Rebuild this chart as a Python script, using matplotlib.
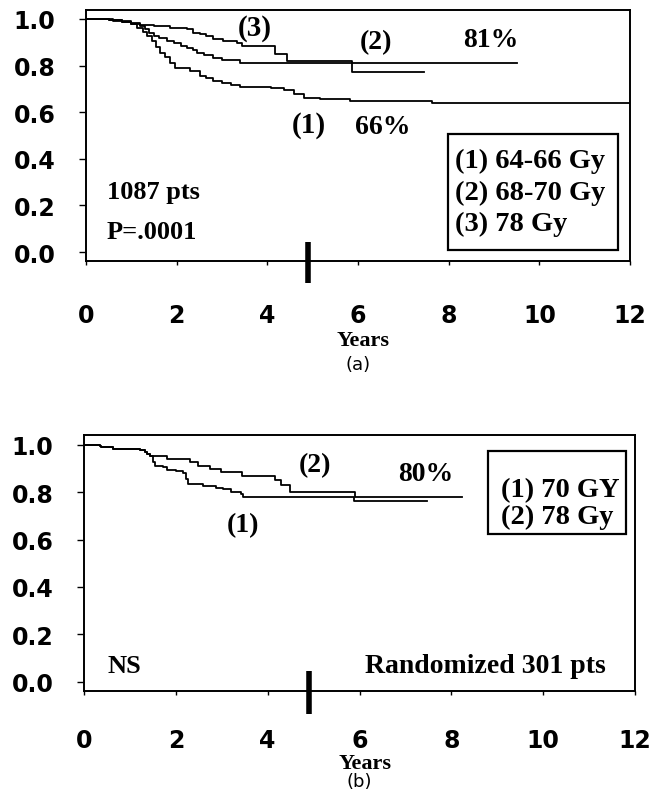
import numpy as np
import matplotlib
matplotlib.use("Agg")
import matplotlib.pyplot as plt
from matplotlib.patches import Rectangle

# (a) all patients, three dose groups
a1_t = [0, 0.5, 0.8, 1.0, 1.12, 1.25, 1.34, 1.45, 1.55, 1.64, 1.75, 1.85, 1.97, 2.3, 2.52,
        2.65, 2.81, 3.0, 3.2, 3.4, 4.07, 4.36, 4.58, 4.8, 5.17, 5.83, 7.64, 12.0]
a1_s = [1.0, 0.995, 0.988, 0.978, 0.962, 0.945, 0.926, 0.905, 0.88, 0.855, 0.835, 0.812, 0.79, 0.775, 0.755,
        0.745, 0.734, 0.725, 0.718, 0.71, 0.703, 0.695, 0.677, 0.66, 0.655, 0.648, 0.638, 0.638]

a2_t = [0, 0.5, 0.8, 1.0, 1.19, 1.3, 1.4, 1.49, 1.6, 1.78, 1.95, 2.1, 2.22, 2.35, 2.45,
        2.6, 2.81, 3.0, 3.11, 3.4, 9.5]
a2_s = [1.0, 0.995, 0.988, 0.98, 0.969, 0.955, 0.94, 0.927, 0.918, 0.905, 0.895, 0.885, 0.877, 0.865, 0.855,
        0.845, 0.834, 0.826, 0.822, 0.81, 0.81]

a3_t = [0, 0.6, 1.0, 1.19, 1.5, 1.86, 2.22, 2.37, 2.52, 2.65, 2.81, 3.03, 3.33, 3.44, 4.18,
        4.43, 5.87, 7.45]
a3_s = [1.0, 0.99, 0.982, 0.976, 0.97, 0.962, 0.955, 0.941, 0.934, 0.925, 0.915, 0.905, 0.898, 0.884, 0.848,
        0.818, 0.774, 0.774]

# (b) randomized trial, 70 vs 78 Gy
b1_t = [0, 0.35, 0.38, 0.64, 1.22, 1.33, 1.38, 1.43, 1.51, 1.54, 1.72, 1.80, 2.01, 2.16, 2.23,
        2.27, 2.59, 2.88, 3.03, 3.2, 3.43, 3.46, 5.89, 7.46]
b1_s = [1.0, 0.995, 0.991, 0.981, 0.977, 0.97, 0.96, 0.953, 0.927, 0.913, 0.906, 0.896, 0.888, 0.882, 0.857,
        0.836, 0.826, 0.817, 0.814, 0.80, 0.793, 0.78, 0.762, 0.762]

b2_t = [0, 0.35, 0.38, 0.64, 1.22, 1.33, 1.38, 1.43, 1.80, 2.30, 2.48, 2.74, 2.99, 3.44, 4.15,
        4.28, 4.49, 5.91, 8.23]
b2_s = [1.0, 0.995, 0.991, 0.981, 0.977, 0.97, 0.96, 0.953, 0.941, 0.927, 0.913, 0.899, 0.885, 0.871, 0.85,
        0.831, 0.80, 0.78, 0.78]

yticks = [0.0, 0.2, 0.4, 0.6, 0.8, 1.0]
xticks = [0, 2, 4, 6, 8, 10, 12]
five_year = 4.9

legend_a = ["(1) 64-66 Gy", "(2) 68-70 Gy", "(3) 78 Gy"]
legend_b = ["(1) 70 GY", "(2) 78 Gy"]

SANS = "DejaVu Sans"
SERIF = "Liberation Serif"


def setup_axes(ax, ylim, xpad):
    ax.set_xlim(0, 12)
    ax.set_ylim(*ylim)
    ax.set_xticks(xticks)
    ax.set_yticks(yticks)
    ax.set_xticklabels([str(t) for t in xticks], fontfamily=SANS, fontweight="bold", fontsize=17)
    ax.set_yticklabels(["%.1f" % t for t in yticks], fontfamily=SANS, fontweight="bold", fontsize=17)
    ax.tick_params(axis="x", direction="out", length=3, width=1, pad=xpad)
    ax.tick_params(axis="y", direction="out", length=5, width=1, pad=17)
    for sp in ax.spines.values():
        sp.set_linewidth(1.4)
    # five year marker
    ax.plot([five_year, five_year], [0.045, -0.135], color="black", lw=4,
            solid_capstyle="butt", clip_on=False)


def serif(ax, x, y, s, size=20, **kw):
    ax.text(x, y, s, fontfamily=SERIF, fontweight="bold", fontsize=size, **kw)


fig = plt.figure(figsize=(6.65, 8.04), dpi=100)

# ---------------- (a)
ax = fig.add_axes([86 / 665, 1 - 262 / 804, 544 / 665, 251 / 804])
setup_axes(ax, (-0.0386, 1.0386), 27)
for t, s in [(a1_t, a1_s), (a2_t, a2_s), (a3_t, a3_s)]:
    ax.plot(t, s, drawstyle="steps-post", color="black", lw=1.3)

serif(ax, 3.73, 0.964, "(3)", ha="center", va="center", size=21)
serif(ax, 6.39, 0.904, "(2)", ha="center", va="center")
serif(ax, 8.93, 0.912, "81%", ha="center", va="center")
serif(ax, 4.91, 0.548, "(1)", ha="center", va="center", size=21)
serif(ax, 6.54, 0.54, "66%", ha="center", va="center")
serif(ax, 0.46, 0.26, "1087 pts", ha="left", va="center", size=19)
serif(ax, 0.46, 0.09, "P=.0001", ha="left", va="center", size=19)

ax.add_patch(Rectangle((7.98, 0.009), 3.75, 0.496, fill=False, ec="black", lw=1.6))
for yy, lab in zip([0.391, 0.256, 0.121], legend_a):
    serif(ax, 8.15, yy, lab, ha="left", va="center", size=20.5)

ax.text(0.51, -0.315, "Years", transform=ax.transAxes, ha="center", va="center",
        fontfamily=SERIF, fontweight="bold", fontsize=16)
ax.text(0.5, -0.409, "(a)", transform=ax.transAxes, ha="center", va="center",
        fontfamily=SANS, fontsize=13)

# ---------------- (b)
ax = fig.add_axes([84 / 665, 1 - 691.7 / 804, 551 / 665, 256 / 804])
setup_axes(ax, (-0.0385, 1.0435), 24)
for t, s in [(b1_t, b1_s), (b2_t, b2_s)]:
    ax.plot(t, s, drawstyle="steps-post", color="black", lw=1.3)

serif(ax, 5.04, 0.916, "(2)", ha="center", va="center", size=20)
serif(ax, 7.45, 0.878, "80%", ha="center", va="center")
serif(ax, 3.47, 0.664, "(1)", ha="center", va="center", size=20)
serif(ax, 0.52, 0.07, "NS", ha="left", va="center", size=19)
serif(ax, 6.12, 0.07, "Randomized 301 pts", ha="left", va="center", size=20)

ax.add_patch(Rectangle((8.8, 0.622), 3.0, 0.354, fill=False, ec="black", lw=1.6))
for yy, lab in zip([0.81, 0.70], legend_b):
    serif(ax, 9.09, yy, lab, ha="left", va="center", size=20.5)

ax.text(0.51, -0.282, "Years", transform=ax.transAxes, ha="center", va="center",
        fontfamily=SERIF, fontweight="bold", fontsize=16)
ax.text(0.5, -0.352, "(b)", transform=ax.transAxes, ha="center", va="center",
        fontfamily=SANS, fontsize=13)

fig.savefig("out.png", dpi=100)
